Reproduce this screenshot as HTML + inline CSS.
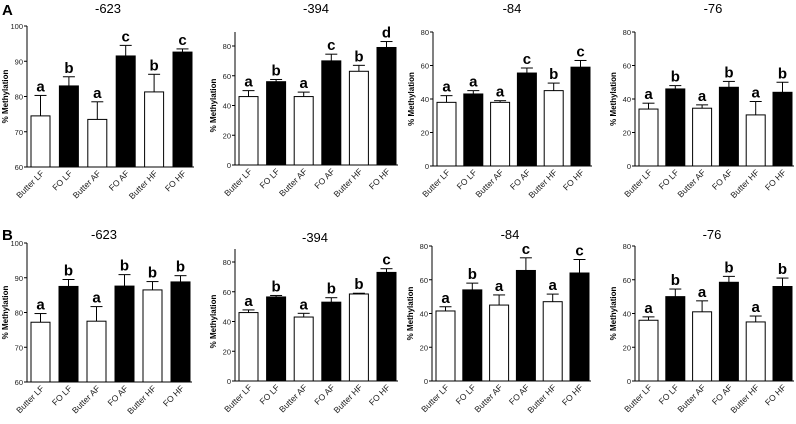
<!DOCTYPE html>
<html><head><meta charset="utf-8">
<style>
body{margin:0;background:#fff;}
svg{display:block;font-family:"Liberation Sans",Arial,sans-serif;}
</style></head>
<body>
<svg id="fig" width="796" height="424" viewBox="0 0 796 424" xmlns="http://www.w3.org/2000/svg">
<text x="2" y="15" font-size="15" font-weight="bold">A</text>
<text x="2" y="240" font-size="15" font-weight="bold">B</text>
</svg>
<script>
const categories = ["Butter LF","FO LF","Butter AF","FO AF","Butter HF","FO HF"];
const fills = ["#fff","#000","#fff","#000","#fff","#000"];
const titles = ["-623","-394","-84","-76","-623","-394","-84","-76"];
const meansA623 = [74.5,83,73.5,91.5,81.3,92.6];
const errA623 = [5.8,2.6,5,3,5,0.9];
const lettersA623 = ["a","b","a","c","b","c"];
const meansA394 = [46,56,46,70,63,79];
const errA394 = [4,1.5,3,4.5,4,4];
const lettersA394 = ["a","b","a","c","b","d"];
const meansA84 = [38,43,38,55.5,45,59];
const errA84 = [4,2,1,3,4.5,4];
const lettersA84 = ["a","a","a","c","b","c"];
const meansA76 = [34,46,34.5,47,30.5,44];
const errA76 = [3.5,2,2,3.5,8,6];
const lettersA76 = ["a","b","a","b","a","b"];
const meansB623 = [77.2,87.5,77.5,87.6,86.5,88.8];
const errB623 = [2.5,2,4.2,3.3,2.4,1.8];
const lettersB623 = ["a","b","a","b","b","b"];
const meansB394 = [46,56.5,43,53,58.5,73];
const errB394 = [1.8,1,2.5,3,0.5,2.5];
const lettersB394 = ["a","b","a","b","b","c"];
const meansB84 = [41.5,54,45,65.5,47,64];
const errB84 = [2.5,4,6,7.5,4.5,8];
const lettersB84 = ["a","b","a","c","a","c"];
const meansB76 = [36,50,41,58.5,35,56];
const errB76 = [2,4.5,6.5,3.5,3.5,5];
const lettersB76 = ["a","b","a","b","a","b"];
const ticks623 = [60,70,80,90,100];
const ticks80 = [0,20,40,60,80];

const NS="http://www.w3.org/2000/svg";
const svg=document.getElementById('fig');
function mk(tag,attrs,parent){const e=document.createElementNS(NS,tag);for(const k in attrs)e.setAttribute(k,attrs[k]);(parent||svg).appendChild(e);return e;}

const panels=[
 {id:"a-623",ax:27,top:26,bot:167,min:60,max:100,axTop:26,ticks:ticks623,m:meansA623,e:errA623,l:lettersA623,tx:108,ty:13,pitch:28.4},
 {id:"a-394",ax:235,top:46,bot:165,min:0,max:80,axTop:32,ticks:ticks80,m:meansA394,e:errA394,l:lettersA394,tx:316,ty:13,pitch:27.6},
 {id:"a-84",ax:433,top:32,bot:166,min:0,max:80,axTop:32,ticks:ticks80,m:meansA84,e:errA84,l:lettersA84,tx:512,ty:13,pitch:26.8},
 {id:"a-76",ax:635,top:32,bot:166,min:0,max:80,axTop:32,ticks:ticks80,m:meansA76,e:errA76,l:lettersA76,tx:713,ty:13,pitch:26.8},
 {id:"b-623",ax:27,top:243,bot:382,min:60,max:100,axTop:243,ticks:ticks623,m:meansB623,e:errB623,l:lettersB623,tx:104,ty:239,pitch:28},
 {id:"b-394",ax:235,top:262,bot:381,min:0,max:80,axTop:249,ticks:ticks80,m:meansB394,e:errB394,l:lettersB394,tx:315,ty:242,pitch:27.6},
 {id:"b-84",ax:432,top:246,bot:381,min:0,max:80,axTop:246,ticks:ticks80,m:meansB84,e:errB84,l:lettersB84,tx:510,ty:239,pitch:26.8},
 {id:"b-76",ax:635,top:246,bot:381,min:0,max:80,axTop:246,ticks:ticks80,m:meansB76,e:errB76,l:lettersB76,tx:712,ty:239,pitch:26.8}
];

panels.forEach((p,pi)=>{
  const g=mk('g',{});
  
  
  const y=v=>p.bot-(v-p.min)/(p.max-p.min)*(p.bot-p.top);
  const bw=19;
  const x=i=>p.ax+4+i*p.pitch;
  const t=mk('text',{x:p.tx,y:p.ty,'font-size':13,'text-anchor':'middle'},g);
  t.textContent=titles[pi];
  
  
  const axis=mk('line',{x1:p.ax,x2:p.ax,y1:p.axTop,y2:p.bot,stroke:'#000','stroke-width':1},g);
  
  
  const xaxis=mk('line',{x1:p.ax,x2:x(5)+bw+2,y1:p.bot,y2:p.bot,stroke:'#000','stroke-width':1},g);
  
  
  p.ticks.forEach(v=>{
    mk('line',{x1:p.ax-3,x2:p.ax,y1:y(v),y2:y(v),stroke:'#000'},g);
    const tl=mk('text',{x:p.ax-4,y:y(v)+3,'font-size':7.5,'text-anchor':'end',fill:'#222'},g);
    tl.textContent=v;
    
    
  });
  const yl=mk('text',{transform:`translate(${p.ax-19},${(p.top+p.bot)/2}) rotate(-90)`,'font-size':8,'font-weight':'bold','text-anchor':'middle'},g);
  yl.textContent='% Methylation';
  
  
  categories.forEach((c,i)=>{
    const bx=x(i), cx=bx+bw/2, top=y(p.m[i]), et=y(p.m[i]+p.e[i]);
    mk('line',{x1:cx,x2:cx,y1:top,y2:et,stroke:'#000'},g);
    mk('line',{x1:cx,x2:cx+6,y1:et,y2:et,stroke:'#000'},g);
    mk('line',{x1:cx-6,x2:cx,y1:et,y2:et,stroke:'#000'},g);
    const r=mk('rect',{x:bx,y:top,width:bw,height:p.bot-top,fill:fills[i],stroke:'#000','stroke-width':1},g);
    
    
    const lt=mk('text',{x:cx,y:et-4,'font-size':15,'font-weight':'bold','text-anchor':'middle'},g);
    lt.textContent=p.l[i];
    
    
    const xl=mk('text',{transform:`translate(${cx+4},${p.bot+7}) rotate(-45)`,'font-size':8.5,'text-anchor':'end',fill:'#222'},g);
    xl.textContent=c;
    
    
  });
});
</script>
</body></html>
